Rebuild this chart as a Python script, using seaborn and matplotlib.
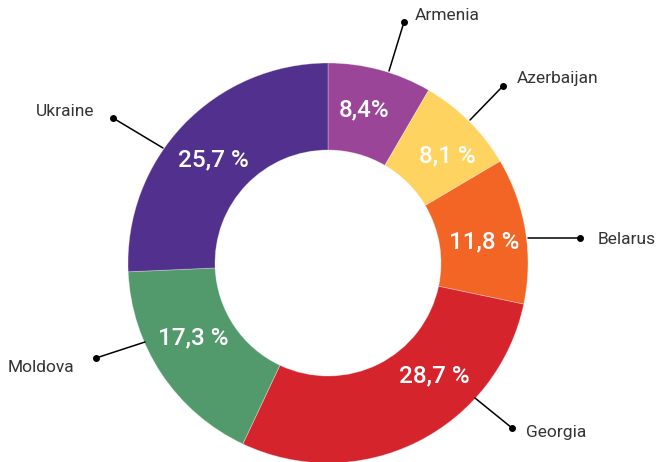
import matplotlib
matplotlib.use("Agg")
import matplotlib.pyplot as plt
import seaborn as sns
import numpy as np

sns.set_theme(style="white")
plt.rcParams['font.family'] = ['Roboto', 'DejaVu Sans']

countries = ["Armenia", "Azerbaijan", "Belarus", "Georgia", "Moldova", "Ukraine"]
shares = [8.4, 8.1, 11.8, 28.7, 17.3, 25.7]
pct_labels = ["8,4%", "8,1 %", "11,8 %", "28,7 %", "17,3 %", "25,7 %"]
colors = ["#9A4598", "#FFD360", "#F26524", "#D5242B", "#52996B", "#52308E"]

# label / leader layout in pixel coordinates (x, y from top)
pct_pos = [(364, 110), (447, 156), (484, 242), (434, 376), (193, 338), (213, 160)]
leader_start = [(389, 71), (470, 120), (528, 238), (475, 398), (145, 342), (163, 148)]
leader_dot = [(404, 22), (503, 86), (580, 238), (512, 428), (96, 358), (113, 118)]
text_pos = [(415, 16), (517, 79), (598, 240), (526, 433), (8, 368), (94, 112)]
text_ha = ["left", "left", "left", "left", "left", "right"]

W, H = 667, 462
fig = plt.figure(figsize=(W / 100, H / 100), dpi=100)
ax = fig.add_axes([0, 0, 1, 1])

cx, cy, R = 328, H - 263, 200
wedges, texts, autotexts = ax.pie(
    shares, colors=colors, startangle=90, counterclock=False,
    center=(cx, cy), radius=R, frame=True,
    wedgeprops=dict(width=0.435 * R, edgecolor=(1, 1, 1, 0.35), linewidth=0.6),
    autopct=lambda p: "", pctdistance=0.78,
)
ax.set_xlim(0, W)
ax.set_ylim(0, H)
ax.set_aspect("equal")
ax.axis("off")

for at, lab, p in zip(autotexts, pct_labels, pct_pos):
    at.set_text(lab)
    at.set_position((p[0], H - p[1]))
    at.set_color("white")
    at.set_fontsize(17.5)
    at.set_fontweight("medium")
    at.set_ha("center")
    at.set_va("center")

for s, d, t, ha, name in zip(leader_start, leader_dot, text_pos, text_ha, countries):
    ax.plot([s[0], d[0]], [H - s[1], H - d[1]], color="black", lw=1.1, zorder=5)
    ax.plot(d[0], H - d[1], "o", color="black", ms=4, zorder=6)
    ax.text(t[0], H - t[1], name, ha=ha, va="center", fontsize=12.5,
            color="#333333", fontweight="normal")

fig.savefig("out.png", dpi=100)
